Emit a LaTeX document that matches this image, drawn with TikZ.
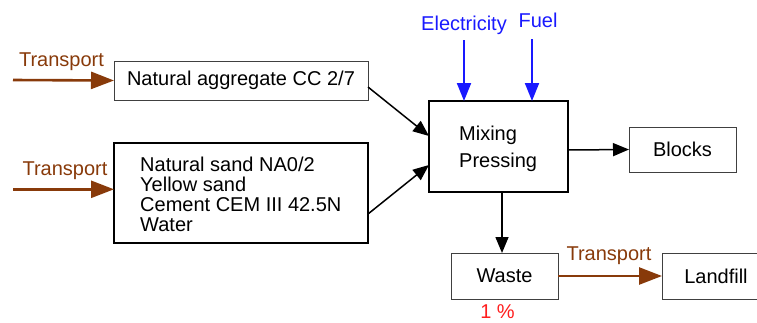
\documentclass[tikz,border=0pt]{standalone}
\usepackage{fontspec}
\setmainfont{Liberation Sans}
\usetikzlibrary{arrows.meta}
\definecolor{brn}{RGB}{136,58,10}
\definecolor{blu}{RGB}{25,25,255}
\definecolor{rd}{RGB}{255,30,30}
\begin{document}
\begin{tikzpicture}[x=1pt,y=-1pt,
  every node/.style={font=\fontsize{20}{20}\selectfont},
  thinbox/.style={draw=black!75, line width=1pt, inner sep=0pt, outer sep=0pt},
  thickbox/.style={draw=black, line width=2pt, inner sep=0pt, outer sep=0pt},
  lbl/.style={inner sep=0pt, anchor=base},
  barrow/.style={draw=brn, line width=2.6pt, -{Triangle[length=23pt,width=17pt]}},
  earrow/.style={draw=blu, line width=2pt, -{Triangle[length=18pt,width=14pt]}},
  karrow/.style={draw=black, line width=1.5pt, -{Triangle[length=16pt,width=13pt]}}]
\useasboundingbox (0,0) rectangle (757,322);
% boxes
\node[thinbox, minimum width=254pt, minimum height=39pt] (agg) at (241,80.5) {Natural aggregate CC 2/7};
\node[thickbox, minimum width=254pt, minimum height=100pt] (mat) at (241,193) {};
\node[inner sep=0pt, anchor=north west, align=left, font=\fontsize{20}{20}\selectfont] (mattext) at (140,157)
  {Natural sand NA0/2\\Yellow sand\\Cement CEM III 42.5N\\Water};
\node[thickbox, minimum width=139pt, minimum height=91pt] (mix) at (498.5,146.5) {};
\node[inner sep=0pt, anchor=north west, align=left, font=\fontsize{20}{26.5}\selectfont] (mixtext) at (459,126)
  {Mixing\\Pressing};
\node[thinbox, minimum width=107pt, minimum height=45pt] (blocks) at (682.5,149.5) {Blocks};
\node[thinbox, minimum width=107pt, minimum height=46pt] (waste) at (504.5,276) {Waste};
\node[thinbox, minimum width=108pt, minimum height=46pt] (landfill) at (716,276) {Landfill};
% free ends
\coordinate (t1) at (13,80);
\coordinate (t2) at (13,189.3);
\coordinate (e0) at (464,40);
\coordinate (f0) at (532,39);
% labels
\node[lbl, text=brn] (tl1) at (61.5,66.7) {Transport};
\node[lbl, text=brn] (tl2) at (65,175.7) {Transport};
\node[lbl, text=brn] (tl3) at (609,260) {Transport};
\node[lbl, text=blu] (el) at (464,30) {Electricity};
\node[lbl, text=blu] (fl) at (538,27.3) {Fuel};
\node[lbl, text=rd] (pct) at (497.5,318) {1 \%};
% connectors
\draw[barrow] (t1) -- (agg.west);
\draw[barrow] (t2) -- (mat.west |- t2);
\draw[earrow] (e0) -- (e0 |- mix.north);
\draw[earrow] (f0) -- (f0 |- mix.north);
\draw[karrow] ([yshift=-6.5pt]agg.east) -- ([yshift=10.5pt]mix.west);
\draw[karrow] ([yshift=-21pt]mat.east) -- ([yshift=-18.5pt]mix.west);
\draw[karrow] ([yshift=-3.5pt]mix.east) -- (blocks.west);
\draw[karrow] ([xshift=3.5pt]mix.south) -- ([xshift=-2.5pt]waste.north);
\draw[barrow] (waste.east) -- (landfill.west);
\end{tikzpicture}
\end{document}
